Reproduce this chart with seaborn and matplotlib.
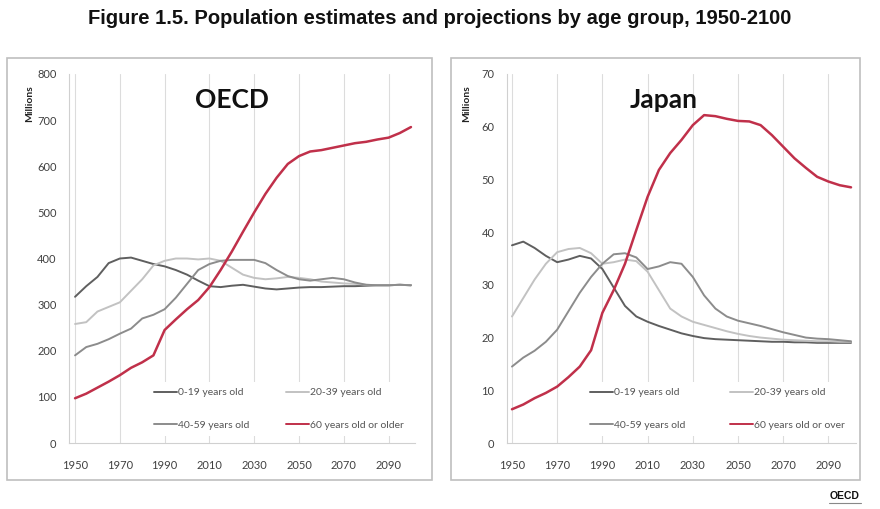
import matplotlib.pyplot as plt
import matplotlib.patches as mpatches
import matplotlib.lines as mlines
import pandas as pd
import seaborn as sns

years = list(range(1950, 2101, 5))
groups = ["0-19 years old", "20-39 years old", "40-59 years old"]

# OECD, millions
oecd_0_19 = [317, 340, 360, 390, 400, 402, 395, 388, 383, 375, 365, 352, 340, 338, 341, 343,
             339, 335, 333, 335, 337, 338, 338, 339, 340, 340, 341, 342, 342, 343, 342]
oecd_20_39 = [258, 262, 285, 295, 305, 330, 355, 385, 395, 400, 400, 398, 400, 395, 380, 365,
              358, 355, 357, 360, 358, 355, 350, 348, 346, 345, 343, 342, 342, 343, 342]
oecd_40_59 = [190, 208, 215, 225, 237, 248, 270, 278, 290, 315, 345, 375, 388, 395, 397, 397,
              397, 390, 375, 362, 355, 352, 355, 358, 355, 348, 343, 342, 342, 343, 342]
oecd_60 = [97, 107, 120, 133, 147, 163, 175, 190, 245, 268, 290, 310, 338, 375, 415, 458,
           500, 540, 575, 605, 622, 632, 635, 640, 645, 650, 653, 658, 662, 672, 685]

# Japan, millions
japan_0_19 = [37.5, 38.2, 37.0, 35.5, 34.3, 34.8, 35.5, 35.0, 33.0, 29.5, 26.0, 24.0, 23.0, 22.2,
              21.5, 20.8, 20.3, 19.9, 19.7, 19.6, 19.5, 19.4, 19.3, 19.2, 19.2, 19.1, 19.1, 19.0,
              19.0, 19.0, 19.0]
japan_20_39 = [24.0, 27.5, 31.0, 34.0, 36.2, 36.8, 37.0, 36.0, 34.0, 34.3, 34.8, 34.5, 32.5, 29.0,
               25.5, 24.0, 23.0, 22.4, 21.8, 21.2, 20.7, 20.3, 20.0, 19.8, 19.6, 19.5, 19.4, 19.3,
               19.3, 19.2, 19.2]
japan_40_59 = [14.5, 16.2, 17.5, 19.2, 21.5, 25.0, 28.5, 31.5, 34.0, 35.8, 36.0, 35.2, 33.0, 33.5,
               34.3, 34.0, 31.5, 28.0, 25.5, 24.0, 23.2, 22.7, 22.2, 21.6, 21.0, 20.5, 20.0, 19.8,
               19.7, 19.5, 19.3]
japan_60 = [6.4, 7.3, 8.5, 9.5, 10.7, 12.5, 14.5, 17.6, 24.7, 29.0, 34.0, 40.4, 46.7, 51.8, 55.0,
            57.5, 60.3, 62.2, 62.0, 61.5, 61.1, 61.0, 60.3, 58.4, 56.2, 54.0, 52.2, 50.5, 49.6,
            48.9, 48.5]

x_ticks = list(range(1950, 2091, 20))

sns.set_style("white")
plt.rcParams["font.family"] = ["Lato", "DejaVu Sans"]

fig = plt.figure(figsize=(8.8, 5.09), dpi=100)
W, H = 880.0, 509.0

# panel boxes
for x0, x1 in [(7, 432), (451, 860)]:
    fig.patches.append(mpatches.Rectangle((x0 / W, 1 - 480 / H), (x1 - x0) / W, (480 - 58) / H,
                                          transform=fig.transFigure, fill=False,
                                          edgecolor="#bfbfbf", linewidth=1.2))

grey_dark = "#5f5f5f"
grey_light = "#c2c2c2"
grey_mid = "#8c8c8c"
red = "#c0304a"


def panel(rect, xlim, ymax, ystep, series, old_label, name, name_x, col_space):
    ax = fig.add_axes(rect)
    labels = groups + [old_label]
    df = pd.DataFrame({
        "year": years * 4,
        "value": series[0] + series[1] + series[2] + series[3],
        "group": sum([[g] * len(years) for g in labels], []),
    })
    palette = dict(zip(labels, [grey_dark, grey_light, grey_mid, red]))
    sns.lineplot(data=df, x="year", y="value", hue="group", palette=palette, ax=ax,
                 linewidth=1.4)
    for line, lab in zip(ax.get_lines(), labels):
        if lab == old_label:
            line.set_linewidth(1.8)
    ax.set_xlim(*xlim)
    ax.set_ylim(0, ymax)
    ax.set_yticks(range(0, ymax + 1, ystep))
    ax.set_xticks(x_ticks)
    ax.set_xticklabels([str(v) for v in x_ticks])
    ax.grid(axis="x", color="#dcdcdc", linewidth=0.8)
    ax.set_axisbelow(True)
    for s in ["top", "right"]:
        ax.spines[s].set_visible(False)
    for s in ["left", "bottom"]:
        ax.spines[s].set_color("#d0d0d0")
        ax.spines[s].set_linewidth(0.8)
    ax.tick_params(axis="both", length=0, labelsize=8, labelcolor="#404040")
    ax.tick_params(axis="y", pad=9)
    ax.tick_params(axis="x", pad=12)
    ax.set_xlabel("")
    ax.set_ylabel("")
    ax.text(-0.115, 0.92, "Millions", transform=ax.transAxes, rotation=90, fontsize=7.5,
            fontweight="bold", ha="center", va="center", color="#222222")
    ax.text(name_x, 0.93, name, transform=ax.transAxes, fontsize=19, fontweight="bold",
            ha="center", va="center", color="#111111")
    handles, labs = ax.get_legend_handles_labels()
    order = [0, 2, 1, 3]
    leg = ax.legend([handles[i] for i in order], [labs[i] for i in order], ncol=2,
                    loc="lower right", bbox_to_anchor=(1.0, 0.005), fontsize=7.5,
                    frameon=True, facecolor="white", edgecolor="none", framealpha=1,
                    handlelength=2.2, handletextpad=0.1, columnspacing=col_space,
                    labelspacing=2.2, borderpad=0.6, fancybox=False)
    for t in leg.get_texts():
        t.set_color("#555555")
    return ax


ax1 = panel([69 / W, 1 - 443 / H, 346 / W, 369 / H], (1947.3, 2101.8), 800, 100,
            [oecd_0_19, oecd_20_39, oecd_40_59, oecd_60], "60 years old or older", "OECD",
            0.47, 3.5)
ax2 = panel([507 / W, 1 - 443 / H, 349 / W, 369 / H], (1947.8, 2102.2), 70, 10,
            [japan_0_19, japan_20_39, japan_40_59, japan_60], "60 years old or over", "Japan",
            0.45, 4.3)

fig.text(0.5, 1 - 18 / H, "Figure 1.5. Population estimates and projections by age group, 1950-2100",
         ha="center", va="center", fontsize=14.5, fontweight="bold",
         family=["Liberation Sans", "DejaVu Sans"], color="#111111")
fig.text(845 / W, 1 - 496 / H, "OECD", ha="center", va="center", fontsize=7.5,
         fontweight="bold", family=["Liberation Sans", "DejaVu Sans"], color="#111111")
fig.lines.append(mlines.Line2D([829 / W, 861 / W], [1 - 503 / H, 1 - 503 / H],
                               transform=fig.transFigure, color="#888888", linewidth=0.8))

fig.savefig("out.png", dpi=100)
